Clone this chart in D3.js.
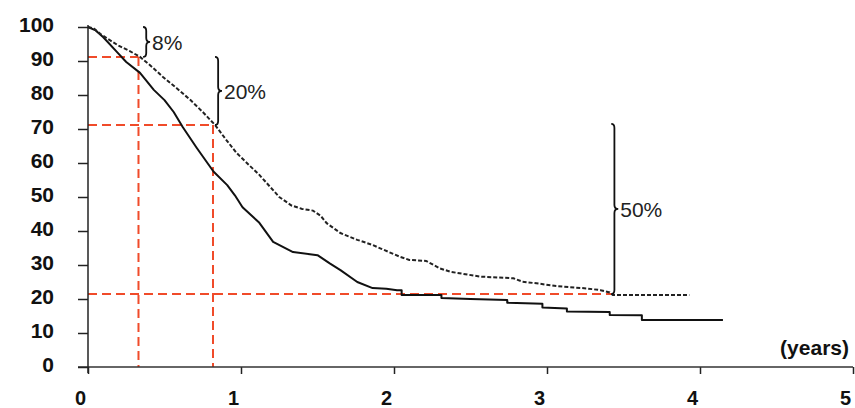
<!DOCTYPE html>
<html>
<head>
<meta charset="utf-8">
<script src="https://cdn.jsdelivr.net/npm/d3@7"></script>
<style>
  html, body { margin: 0; padding: 0; background: #fff; }
  svg { display: block; }
</style>
</head>
<body>
<svg id="chart" width="855" height="408"></svg>
<script>
// ---- data ----
const xTicks = [0, 1, 2, 3, 4, 5];
const yTicks = [0, 10, 20, 30, 40, 50, 60, 70, 80, 90, 100];
const xLabel = "(years)";

// upper (dotted) survival curve: [years, percent]
const dottedCurve = [
  [0,100],[0.04,99.5],[0.08,98],[0.13,96.5],[0.2,94.5],[0.27,93],[0.34,91.2],
  [0.42,88.2],[0.49,85.3],[0.58,82],[0.67,78.5],[0.75,75],[0.83,71.2],[0.9,67],
  [0.97,63],[1.05,59.5],[1.12,56.5],[1.19,53],[1.25,50],[1.33,47.5],[1.4,46.5],
  [1.47,46],[1.52,44.5],[1.56,42.3],[1.65,39.4],[1.76,37.4],[1.86,35.9],[1.91,34.9],
  [2.04,32.4],[2.1,31.5],[2.21,31.2],[2.3,29],[2.37,28],[2.56,26.6],[2.78,26.1],
  [2.84,25.1],[2.95,24.5],[3.06,23.8],[3.26,23.1],[3.35,22.6],[3.41,21.9],
  [3.43,21.2],[3.93,21.2]
];

// lower (solid) survival curve: [years, percent]
const solidCurve = [
  [0,100],[0.05,99],[0.1,97],[0.19,92.6],[0.25,89.7],[0.34,86.5],[0.43,81.5],
  [0.5,78.5],[0.56,75],[0.62,70.5],[0.71,64.5],[0.82,57.5],[0.91,53.5],[0.96,50.5],
  [1.01,47],[1.12,42.4],[1.21,36.8],[1.34,33.8],[1.5,32.9],[1.58,30.5],
  [1.65,28.5],[1.76,25],[1.86,23.2],[1.95,23],[2.02,22.6],[2.05,22.6],[2.05,21.2],
  [2.31,21.2],[2.31,20.3],[2.5,20],[2.74,19.7],[2.74,18.9],[2.97,18.6],[2.97,17.5],
  [3.13,17.2],[3.13,16.3],[3.41,16.2],[3.41,15.3],[3.62,15.2],[3.62,13.8],[4.15,13.8]
];

// red dashed reference lines
const refTimes  = [0.33, 0.817, 3.42];
const refValues = [91.2, 71.2, 21.5];
const refVertical = [true, true, false];

// braces with differences
const braceTimes   = [0.36, 0.83, 3.42];
const braceTop     = [100, 91.2, 71.5];
const braceBottom  = [91.2, 71.2, 21.5];
const braceLabels  = ["8%", "20%", "50%"];

// ---- drawing ----
const svg = d3.select("#chart");
const x = d3.scaleLinear().domain([0, 5]).range([88, 853]);
const y = d3.scaleLinear().domain([0, 100]).range([367, 27]);
const RED = "#f04b2a";
const FONT = "'Liberation Sans', Arial, Helvetica, sans-serif";

// red dashed lines (behind curves)
const ref = svg.append("g").attr("stroke", RED).attr("stroke-width", 2)
  .attr("stroke-dasharray", "9,5").attr("fill", "none");
refTimes.forEach((t, i) => {
  ref.append("line").attr("x1", x(0)).attr("x2", x(t))
    .attr("y1", y(refValues[i])).attr("y2", y(refValues[i]));
  if (refVertical[i]) {
    ref.append("line").attr("x1", x(t)).attr("x2", x(t))
      .attr("y1", y(refValues[i])).attr("y2", y(0));
  }
});

// axes
const xAxis = svg.append("g").attr("transform", `translate(0,${y(0)})`)
  .call(d3.axisBottom(x).tickValues(xTicks).tickSize(7).tickSizeOuter(0).tickPadding(17)
    .tickFormat(d3.format("d")));
xAxis.select(".domain").remove();
xAxis.selectAll(".tick line").attr("stroke", "#222").attr("stroke-width", 1.5);
xAxis.selectAll(".tick text").attr("dx", -8)
  .style("font-family", FONT).style("font-size", "20px").style("font-weight", "bold").attr("fill", "#111");
svg.append("line").attr("x1", x(0) - 10).attr("x2", x(5))
  .attr("y1", y(0)).attr("y2", y(0)).attr("stroke", "#333").attr("stroke-width", 1.5);

const yAxis = svg.append("g").attr("transform", `translate(${x(0)},0)`)
  .call(d3.axisLeft(y).tickValues(yTicks).tickSize(10).tickSizeOuter(0).tickPadding(24));
yAxis.select(".domain").remove();
yAxis.selectAll(".tick line").attr("stroke", "#222").attr("stroke-width", 1.5);
yAxis.selectAll(".tick text").attr("dy", "0.32em").attr("y", -2)
  .style("font-family", FONT).style("font-size", "21px").style("font-weight", "bold").attr("fill", "#111");
svg.append("line").attr("x1", x(0)).attr("x2", x(0))
  .attr("y1", y(100) - 2).attr("y2", y(0) + 6).attr("stroke", "#222").attr("stroke-width", 1.5);

svg.append("text").attr("x", x(5) - 4).attr("y", y(0) - 20)
  .attr("text-anchor", "end").attr("dominant-baseline", "central")
  .style("font-family", FONT).style("font-size", "21px").style("font-weight", "bold")
  .attr("fill", "#111").text(xLabel);

// curves
const line = d3.line().x(d => x(d[0])).y(d => y(d[1])).curve(d3.curveLinear);
svg.append("path").datum(solidCurve).attr("d", line)
  .attr("fill", "none").attr("stroke", "#111").attr("stroke-width", 2)
  .attr("stroke-linejoin", "round");
svg.append("path").datum(dottedCurve).attr("d", line)
  .attr("fill", "none").attr("stroke", "#222").attr("stroke-width", 2)
  .attr("stroke-dasharray", "4,2");

// braces
function bracePath(x0, y1, y2, w) {
  const xm = x0 + w * 0.45, xt = x0 + w, ym = (y1 + y2) / 2;
  const r = Math.min(4, (y2 - y1) / 4);
  return `M${x0},${y1} Q${xm},${y1} ${xm},${y1 + r} L${xm},${ym - r} ` +
         `Q${xm},${ym} ${xt},${ym} Q${xm},${ym} ${xm},${ym + r} ` +
         `L${xm},${y2 - r} Q${xm},${y2} ${x0},${y2}`;
}
braceTimes.forEach((t, i) => {
  const x0 = x(t), y1 = y(braceTop[i]), y2 = y(braceBottom[i]);
  svg.append("path").attr("d", bracePath(x0, y1, y2, 7))
    .attr("fill", "none").attr("stroke", "#111").attr("stroke-width", 1.8);
  svg.append("text").attr("x", x0 + 9).attr("y", (y1 + y2) / 2 + 1)
    .attr("dominant-baseline", "central")
    .style("font-family", FONT).style("font-size", "21px")
    .attr("fill", "#222").text(braceLabels[i]);
});
</script>
</body>
</html>
